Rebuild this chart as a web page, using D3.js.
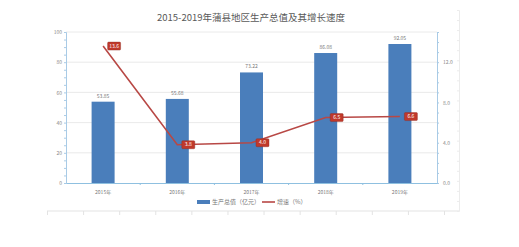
<!DOCTYPE html>
<html>
<head>
<meta charset="utf-8">
<script src="https://cdn.jsdelivr.net/npm/d3@7"></script>
<style>
  body { margin: 0; background: #fff; }
  text { font-family: "Noto Sans CJK SC", "Noto Sans", sans-serif; }
</style>
</head>
<body>
<script>
// data
var years = ["2015年", "2016年", "2017年", "2018年", "2019年"];
var gdp = [53.85, 55.68, 73.22, 86.08, 92.05];      // 生产总值（亿元）
var growth = [13.6, 3.8, 4.0, 6.5, 6.6];            // 增速（%）
var leftTicks = [0, 20, 40, 60, 80, 100];
var rightTicks = [0, 4, 8, 12];

var W = 519, H = 247;
var margin = {top: 32, right: 82, bottom: 64, left: 66};
var plotW = W - margin.left - margin.right,
    plotH = H - margin.top - margin.bottom;

var svg = d3.select("body").append("svg")
  .attr("width", W).attr("height", H);

// title
svg.append("text")
  .attr("x", 251).attr("y", 21)
  .attr("text-anchor", "middle")
  .style("font-size", "9.5px")
  .style("fill", "#595959")
  .text("2015-2019年蒲县地区生产总值及其增长速度");

// faint sheet frame lines (right and bottom)
var frameX = d3.scaleLinear().domain([0, 11]).range([47, 444]);
svg.append("g")
  .attr("transform", "translate(0,211)")
  .call(d3.axisBottom(frameX).ticks(11).tickSize(4).tickFormat(""))
  .call(function(g) {
    g.select(".domain").attr("d", "M47,0H459").attr("stroke", "#e3e3e3");
    g.selectAll(".tick line").attr("stroke", "#e3e3e3");
  });
var frameY = d3.scaleLinear().domain([0, 20]).range([211, 10]);
svg.append("g")
  .attr("transform", "translate(459,0)")
  .call(d3.axisLeft(frameY).ticks(20).tickSize(2).tickFormat(""))
  .call(function(g) {
    g.select(".domain").attr("stroke", "#ececec");
    g.selectAll(".tick line").attr("stroke", "#ececec");
  });

var g = svg.append("g")
  .attr("transform", "translate(" + margin.left + "," + margin.top + ")");

// scales
var x = d3.scaleBand().domain(years).range([0, plotW]);
var yL = d3.scaleLinear().domain([0, 100]).range([plotH, 0]);
var yR = d3.scaleLinear().domain([0, 15]).range([plotH, 0]);

// gridlines
g.append("g")
  .selectAll("line")
  .data(leftTicks.slice(1))
  .enter().append("line")
  .attr("x1", 0).attr("x2", plotW)
  .attr("y1", function(d) { return yL(d); })
  .attr("y2", function(d) { return yL(d); })
  .attr("stroke", "#e4e4e4")
  .attr("stroke-width", 0.8);

// left axis: minor ticks then major labels
g.append("g")
  .call(d3.axisLeft(yL).ticks(20).tickSize(2).tickFormat(""))
  .call(function(a) {
    a.select(".domain").attr("stroke", "#a9cbe6");
    a.selectAll(".tick line").attr("stroke", "#a9cbe6");
  });
g.append("g")
  .call(d3.axisLeft(yL).tickValues(leftTicks).tickSize(0).tickPadding(4))
  .call(function(a) {
    a.select(".domain").remove();
    a.selectAll("text").style("font-size", "5px").style("fill", "#888");
  });

// right axis
g.append("g")
  .attr("transform", "translate(" + plotW + ",0)")
  .call(d3.axisRight(yR).ticks(15).tickSize(2).tickFormat(""))
  .call(function(a) {
    a.select(".domain").attr("stroke", "#a9cbe6");
    a.selectAll(".tick line").attr("stroke", "#a9cbe6");
  });
g.append("g")
  .attr("transform", "translate(" + plotW + ",0)")
  .call(d3.axisRight(yR).tickValues(rightTicks).tickSize(0).tickPadding(6).tickFormat(d3.format(".1f")))
  .call(function(a) {
    a.select(".domain").remove();
    a.selectAll("text").style("font-size", "5px").style("fill", "#888");
  });

// bars
var barW = x.bandwidth() * 0.31;
g.selectAll("rect.bar")
  .data(gdp)
  .enter().append("rect")
  .attr("class", "bar")
  .attr("x", function(d, i) { return x(years[i]) + x.bandwidth() / 2 - barW / 2; })
  .attr("y", function(d) { return yL(d); })
  .attr("width", barW)
  .attr("height", function(d) { return plotH - yL(d); })
  .attr("fill", "#4a7ebb");

g.selectAll("text.barlabel")
  .data(gdp)
  .enter().append("text")
  .attr("class", "barlabel")
  .attr("x", function(d, i) { return x(years[i]) + x.bandwidth() / 2; })
  .attr("y", function(d) { return yL(d) - 4; })
  .attr("text-anchor", "middle")
  .style("font-size", "5px")
  .style("fill", "#777")
  .text(function(d) { return d.toFixed(2); });

// bottom axis
g.append("g")
  .attr("transform", "translate(0," + plotH + ")")
  .call(d3.axisBottom(x).tickSize(0).tickPadding(7))
  .call(function(a) {
    a.select(".domain").attr("stroke", "#8fc0e0").attr("stroke-width", 1.2);
    a.selectAll("text").style("font-size", "5px").style("fill", "#777");
  });
// category separator ticks
g.append("g")
  .selectAll("line")
  .data(years.slice(1))
  .enter().append("line")
  .attr("x1", function(d) { return x(d); })
  .attr("x2", function(d) { return x(d); })
  .attr("y1", plotH).attr("y2", plotH + 2)
  .attr("stroke", "#8fc0e0");

// growth line
var line = d3.line()
  .x(function(d, i) { return x(years[i]) + x.bandwidth() / 2; })
  .y(function(d) { return yR(d); });
g.append("path")
  .datum(growth)
  .attr("d", line)
  .attr("fill", "none")
  .attr("stroke", "#b84845")
  .attr("stroke-width", 1.6);

// growth labels
var lab = g.selectAll("g.glabel")
  .data(growth)
  .enter().append("g")
  .attr("class", "glabel")
  .attr("transform", function(d, i) {
    return "translate(" + (x(years[i]) + x.bandwidth() / 2 + 11) + "," + yR(d) + ")";
  });
lab.append("rect")
  .attr("x", -6.5).attr("y", -4)
  .attr("width", 13).attr("height", 8)
  .attr("rx", 1)
  .attr("fill", "#c0392b")
  .attr("stroke", "#8e2a22")
  .attr("stroke-width", 0.4);
lab.append("text")
  .attr("text-anchor", "middle")
  .attr("dy", "0.35em")
  .style("font-size", "5px")
  .style("fill", "#fff")
  .text(function(d) { return d.toFixed(1); });

// legend
var leg = svg.append("g").attr("transform", "translate(197,202)");
leg.append("rect")
  .attr("x", 0).attr("y", -2).attr("width", 13).attr("height", 4)
  .attr("fill", "#4a7ebb");
leg.append("text")
  .attr("x", 15).attr("dy", "0.35em")
  .style("font-size", "6px").style("fill", "#777")
  .text("生产总值（亿元）");
leg.append("line")
  .attr("x1", 65).attr("x2", 78).attr("y1", 0).attr("y2", 0)
  .attr("stroke", "#b84845").attr("stroke-width", 1.6);
leg.append("text")
  .attr("x", 80).attr("dy", "0.35em")
  .style("font-size", "6px").style("fill", "#777")
  .text("增速（%）");
</script>
</body>
</html>
